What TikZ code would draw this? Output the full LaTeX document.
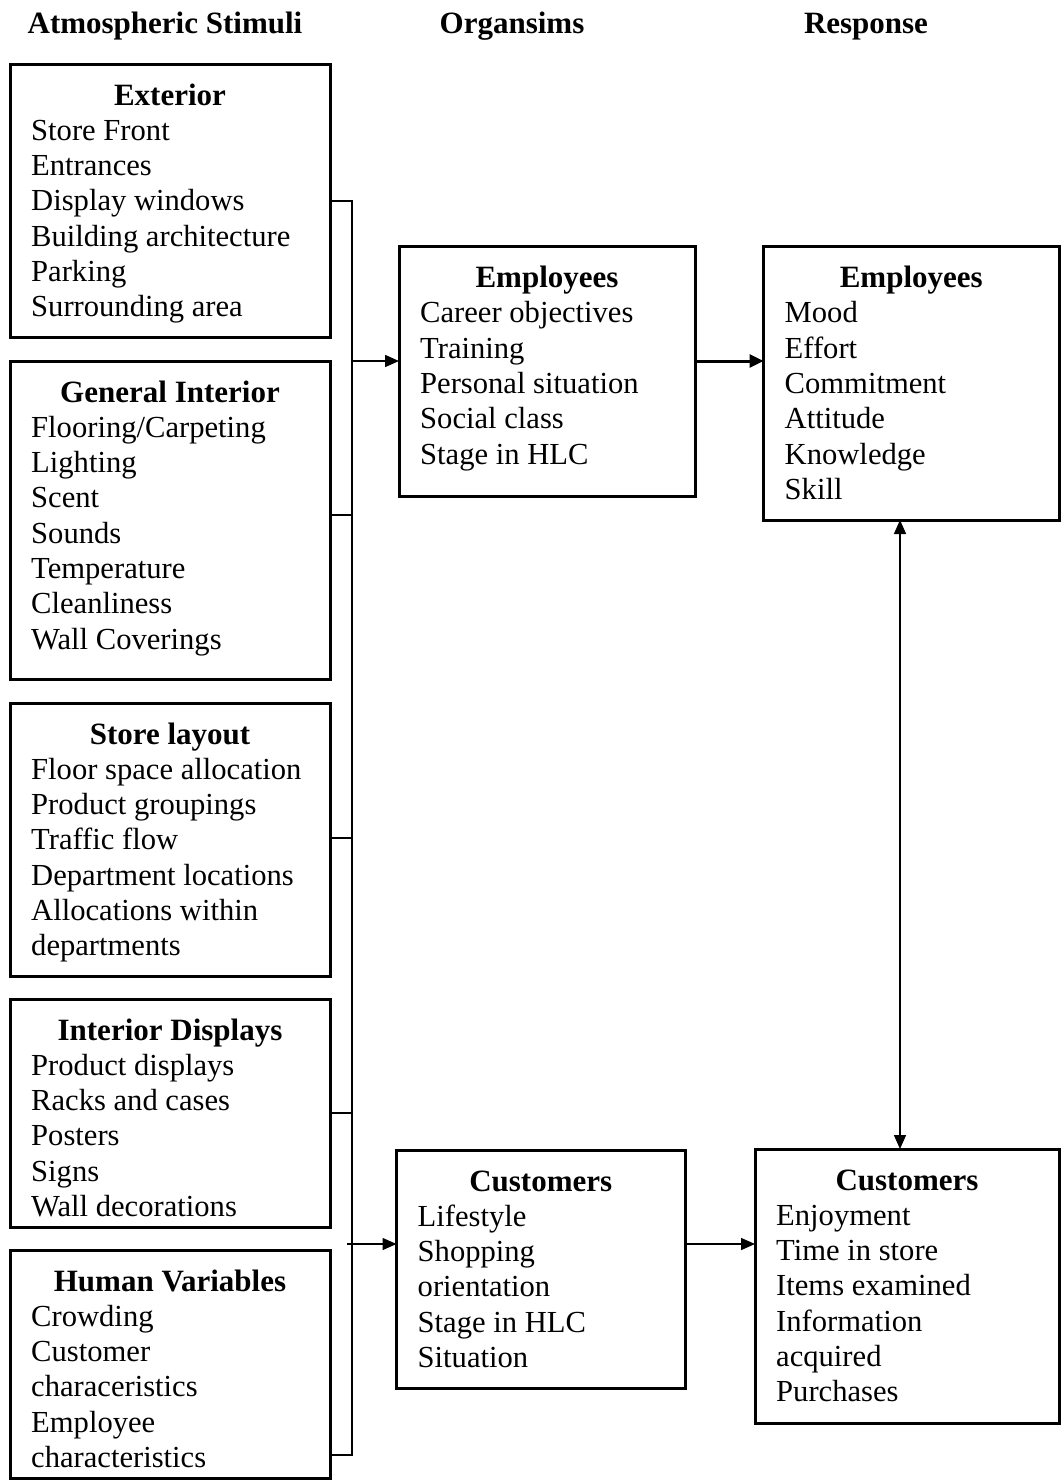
\documentclass[tikz,border=0pt]{standalone}
\usepackage{fontspec}
\setmainfont{Liberation Serif}
\usetikzlibrary{arrows.meta,calc}

\newcommand\txtsize{\fontsize{30.6}{35.3}\selectfont}
\newcommand\headsize{\fontsize{31}{35.3}\selectfont}

% \panel{name}{left}{top}{right}{bottom}{title}{lines}
\newcommand\panel[7]{%
  \node[panelbox, minimum width={#4-#2}, minimum height={#5-#3}] (#1) at ({(#2+#4)/2},{(#3+#5)/2}) {};
  \node[titletext] (#1-t) at ({(#2+#4)/2},{#3+41}) {#6};
  \foreach \entry [count=\k] in {#7} {
    \node[linetext] (#1-\k) at ({#2+21},{#3+41+35.3*\k}) {\entry};
  }%
}

\tikzset{
  panelbox/.style={draw, line width=3pt, inner sep=0pt, outer sep=0pt, rectangle},
  titletext/.style={anchor=base, inner sep=0pt, font=\headsize\bfseries},
  linetext/.style={anchor=base west, inner sep=0pt, font=\txtsize},
  headtext/.style={anchor=base, inner sep=0pt, font=\headsize\bfseries},
  bracket/.style={line width=1.5pt},
  thinarrow/.style={line width=1.5pt, -{Triangle[length=14pt,width=12pt]}},
  thickarrow/.style={line width=3pt, -{Triangle[length=14pt,width=13pt]}},
}

\begin{document}
\begin{tikzpicture}[x=1pt,y=-1pt]
\useasboundingbox (0,0) rectangle (1062,1481);

% column headings
\node[headtext] (hs) at (165,33) {Atmospheric Stimuli};
\node[headtext] (ho) at (512,33) {Organsims};
\node[headtext] (hr) at (866,33) {Response};

% stimulus panels
\panel{ext}{10}{64}{330}{337}{Exterior}{Store Front,Entrances,Display windows,Building architecture,Parking,Surrounding area}
\panel{gen}{10}{361}{330}{679}{General Interior}{Flooring/Carpeting,Lighting,Scent,Sounds,Temperature,Cleanliness,Wall Coverings}
\panel{lay}{10}{703}{330}{976}{Store layout}{Floor space allocation,Product groupings,Traffic flow,Department locations,Allocations within,departments}
\panel{disp}{10}{999}{330}{1227}{Interior Displays}{Product displays,Racks and cases,Posters,Signs,Wall decorations}
\panel{hum}{10}{1250}{330}{1478}{Human Variables}{Crowding,Customer,characeristics,Employee,characteristics}

% organism panels
\panel{empO}{399}{246.5}{695}{496}{Employees}{Career objectives,Training,Personal situation,Social class,Stage in HLC}
\panel{cusO}{396.5}{1150}{685}{1388}{Customers}{Lifestyle,Shopping,orientation,Stage in HLC,Situation}

% response panels
\panel{empR}{763.5}{246.5}{1059}{520}{Employees}{Mood,Effort,Commitment,Attitude,Knowledge,Skill}
\panel{cusR}{755}{1149}{1059}{1423}{Customers}{Enjoyment,Time in store,Items examined,Information,acquired,Purchases}

% bracket collecting the stimuli
\coordinate (t1) at (352,201);
\coordinate (t2) at (352,515);
\coordinate (t3) at (352,838);
\coordinate (t4) at (352,1113);
\coordinate (t5) at (352,1455);
\draw[bracket] (ext.east |- t1) -- (t1) -- (t5) -- (hum.east |- t5);
\draw[bracket] (gen.east |- t2) -- (t2);
\draw[bracket] (lay.east |- t3) -- (t3);
\draw[bracket] (disp.east |- t4) -- (t4);

% arrows into the organisms
\coordinate (a1) at (352,361);
\coordinate (a2) at (347,1244);
\draw[thinarrow] (a1) -- (a1 -| empO.west);
\draw[thinarrow] (a2) -- (a2 -| cusO.west);

% organisms to responses
\draw[thickarrow] (a1 -| empO.east) -- (a1 -| empR.west);
\draw[thinarrow] (a2 -| cusO.east) -- (a2 -| cusR.west);

% link between the two responses
\coordinate (v) at (900,0);
\draw[thinarrow, {Triangle[length=14pt,width=12pt]}-{Triangle[length=14pt,width=12pt]}] (v |- empR.south) -- (v |- cusR.north);
\end{tikzpicture}
\end{document}
